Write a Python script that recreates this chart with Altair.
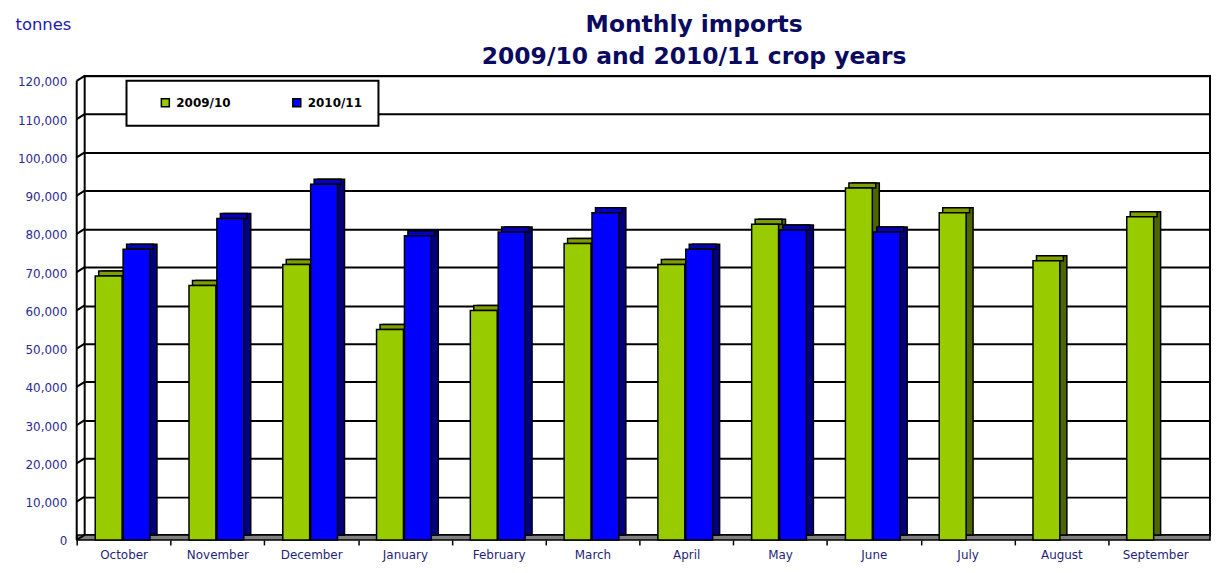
import altair as alt
import pandas as pd

months = ["October", "November", "December", "January", "February", "March",
          "April", "May", "June", "July", "August", "September"]
imports_2009_10 = [69000, 66500, 72000, 55000, 60000, 77500, 72000, 82500, 92000, 85500, 73000, 84500]
imports_2010_11 = [76000, 84000, 93000, 79500, 80500, 85500, 76000, 81000, 80500, None, None, None]
series_names = ["2009/10", "2010/11"]
front_colors = ["#99cc00", "#0000ff"]
side_colors = ["#4d6600", "#000080"]
top_colors = ["#7f9f00", "#0000c0"]
y_ticks = [0, 10000, 20000, 30000, 40000, 50000, 60000, 70000, 80000, 90000, 100000, 110000, 120000]

rows = []
for m, a, b in zip(months, imports_2009_10, imports_2010_11):
    if a is not None:
        rows.append({"month": m, "series": series_names[0], "value": a})
    if b is not None:
        rows.append({"month": m, "series": series_names[1], "value": b})
df = pd.DataFrame(rows)
ticks_df = pd.DataFrame({"v": y_ticks})

W, H = 1130, 461
BW = 27
DX, DY = 7, 5
offsets = [-23, 5]

xenc = alt.X("month:N", sort=months,
             scale=alt.Scale(paddingInner=0, paddingOuter=0),
             axis=alt.Axis(domain=False, ticks=True, tickColor="black", tickWidth=1.5,
                           tickSize=5, bandPosition=0, tickOffset=-8, offset=5,
                           labelOffset=0,
                           labelAngle=0, labelPadding=5, labelFont="DejaVu Sans",
                           labelFontSize=12, labelColor="#1f1f7a", title=None))
yscale = alt.Scale(domain=[0, 120000], nice=False)
yaxis = alt.Axis(values=y_ticks, format=",.0f", grid=True, gridColor="black", gridWidth=2,
                 domain=False, ticks=False, labelPadding=18, labelOffset=6,
                 labelFont="DejaVu Sans", labelFontSize=12, labelColor="#2b2b8f",
                 title="tonnes", titleAngle=0, titleX=-70, titleY=-47, titleAlign="left",
                 titleBaseline="alphabetic", titleFont="DejaVu Sans", titleFontSize=16.5,
                 titleFontWeight="normal", titleColor="#1c1caa")

color_enc = alt.Color("series:N",
                      scale=alt.Scale(domain=series_names, range=front_colors),
                      legend=alt.Legend(orient="none", legendX=42, legendY=5,
                                        direction="horizontal", title=" ",
                                        titleOrient="left", titleFontSize=1, titlePadding=17,
                                        symbolType="square", symbolSize=64,
                                        symbolStrokeColor="black", symbolStrokeWidth=1.5,
                                        labelFont="DejaVu Sans", labelFontWeight="bold",
                                        labelFontSize=12, labelColor="black", labelOffset=5,
                                        columnPadding=59, padding=16,
                                        fillColor="white", strokeColor="black"))

def yq(field):
    return alt.Y(field, scale=yscale, axis=yaxis)

base = alt.Chart(df)

floor = alt.Chart(ticks_df).transform_filter("datum.v == 0").mark_rect(
    fill="#808080", stroke="black", strokeWidth=1.5, y2Offset=5
).encode(x=alt.value(-8), x2=alt.value(W), y=yq("v:Q"), y2=alt.Y2("v"))

outer = alt.Chart(ticks_df).transform_filter("datum.v == 0").transform_calculate(
    top="120000"
).mark_rule(color="black", strokeWidth=2, y2Offset=5, yOffset=5).encode(
    x=alt.value(-8), y=yq("top:Q"), y2=alt.Y2("v"))

diag = alt.Chart(ticks_df).mark_rule(color="black", strokeWidth=2, y2Offset=5).encode(
    x=alt.value(0), x2=alt.value(-8), y=yq("v:Q"), y2=alt.Y2("v"))

layers = [floor, outer, diag]
for i, s in enumerate(series_names):
    sub = base.transform_filter(alt.datum.series == s)
    ox = offsets[i]
    side = sub.mark_bar(width=BW, xOffset=ox + DX, color=side_colors[i],
                        stroke="black", strokeWidth=1.5).encode(
        x=xenc, y=yq("value:Q"))
    top = sub.mark_bar(width=BW, xOffset=ox + DX / 2, color=top_colors[i],
                       stroke="black", strokeWidth=1.5, y2Offset=DY).encode(
        x=xenc, y=yq("value:Q"), y2=alt.Y2("value"))
    front = sub.mark_bar(width=BW, xOffset=ox, yOffset=DY, y2Offset=DY,
                         stroke="black", strokeWidth=1.5).encode(
        x=xenc, y=yq("value:Q"), color=color_enc)
    layers += [side, top, front]

chart = alt.layer(*layers).properties(
    width=W, height=H,
    padding={"left": 77, "top": 67, "right": 2, "bottom": 30},
    autosize=alt.AutoSizeParams(type="none"),
    title=alt.TitleParams(text=["Monthly  imports", "2009/10 and 2010/11 crop years"],
                          font="DejaVu Sans", fontSize=23.5, fontWeight="bold",
                          color="#0a0a60", anchor="middle", frame="group", dx=47,
                          dy=63, lineHeight=33, offset=10)
).configure_view(stroke="black", strokeWidth=2).configure_legend(strokeWidth=2)

chart.save("out.html", embed_options={"renderer": "svg", "actions": False})
